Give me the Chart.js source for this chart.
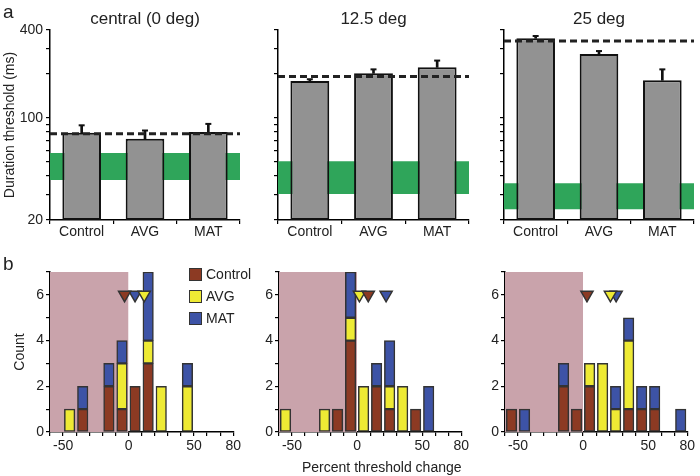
<!DOCTYPE html>
<html>
<head>
<meta charset="utf-8">
<script src="https://cdn.jsdelivr.net/npm/chart.js@4.4.1/dist/chart.umd.min.js"></script>
<style>
body { margin: 0; background: #fff; }
#fig { position: relative; width: 700px; height: 476px; overflow: hidden; font-family: "Liberation Sans", Arial, sans-serif; color: #222; }
canvas { position: absolute; }
.txt { position: absolute; white-space: nowrap; }
.key { position: absolute; width: 11px; height: 11px; border: 1.5px solid #333; }
</style>
</head>
<body>
<div id="fig">
  <canvas id="a1" width="244" height="250" style="left:2px;top:0px"></canvas>
  <canvas id="a2" width="245" height="250" style="left:230px;top:0px"></canvas>
  <canvas id="a3" width="244" height="250" style="left:456px;top:0px"></canvas>
  <canvas id="b1" width="241" height="226" style="left:2px;top:250px"></canvas>
  <canvas id="b2" width="240" height="226" style="left:231px;top:250px"></canvas>
  <canvas id="b3" width="240" height="226" style="left:457px;top:250px"></canvas>
  <div class="txt" style="left:3px;top:1px;font-size:19px">a</div>
  <div class="txt" style="left:3px;top:253px;font-size:19px">b</div>
  <div class="key" style="left:189px;top:268px;background:#8c3a23"></div>
  <div class="txt" style="left:206px;top:266px;font-size:14px">Control</div>
  <div class="key" style="left:189px;top:290px;background:#eeea34"></div>
  <div class="txt" style="left:206px;top:288px;font-size:14px">AVG</div>
  <div class="key" style="left:189px;top:312px;background:#3d53a6"></div>
  <div class="txt" style="left:206px;top:310px;font-size:14px">MAT</div>
  <div class="txt" style="left:302px;top:459px;font-size:14px">Percent threshold change</div>
</div>
<script>
// panel a: duration thresholds (ms), log axis
var groups = ["Control", "AVG", "MAT"];
var titles = ["central (0 deg)", "12.5 deg", "25 deg"];
var thr0 = [79, 72, 80], err0 = [89, 82, 91];
var thr12 = [179, 202, 222], err12 = [184, 215, 247];
var thr25 = [351, 274, 181], err25 = [364, 287, 215];
var baseline = [78, 192, 336];
var bandLow = [37.6, 30.1, 23.7];
var bandHigh = [57.5, 50.5, 35.7];
var yTicksTop = [20, 30, 40, 50, 60, 70, 80, 90, 100, 200, 300, 400];
var yLabelsTop = [20, 100, 400];

// panel b: histograms of percent threshold change
var bins = [-55, -45, -35, -25, -15, -5, 5, 15, 25, 35, 45, 55, 65, 75];
var ctrl0 = [0, 0, 1, 0, 2, 1, 2, 3, 0, 0, 0, 0, 0, 0];
var avg0  = [0, 1, 0, 0, 0, 2, 0, 1, 2, 0, 2, 0, 0, 0];
var mat0  = [0, 0, 1, 0, 1, 1, 0, 3, 0, 0, 1, 0, 0, 0];
var ctrl12 = [0, 0, 0, 0, 1, 4, 0, 2, 1, 0, 1, 0, 0, 0];
var avg12  = [1, 0, 0, 1, 0, 1, 2, 0, 1, 2, 0, 0, 0, 0];
var mat12  = [0, 0, 0, 0, 0, 2, 0, 1, 2, 0, 0, 2, 0, 0];
var ctrl25 = [1, 0, 0, 0, 2, 1, 2, 0, 0, 1, 1, 1, 0, 0];
var avg25  = [0, 0, 0, 0, 0, 0, 1, 3, 1, 3, 0, 0, 0, 0];
var mat25  = [0, 1, 0, 0, 1, 0, 0, 0, 1, 1, 1, 1, 0, 1];
var means0 = [-3, 12, 5], means12 = [8.6, 1.8, 22.3], means25 = [3, 21, 25.4];
var meanLevel = 6;
var xTicksB = [-60, -50, -40, -30, -20, -10, 0, 10, 20, 30, 40, 50, 60, 70, 80];
var xLabelsB = [-50, 0, 50, 80];
var yTicksB = [0, 1, 2, 3, 4, 5, 6, 7];

var colors = ["#8c3a23", "#eeea34", "#3d53a6"];
var tickFont = { family: "'Liberation Sans', Arial, sans-serif", size: 14 };

Chart.defaults.color = "#222";
Chart.defaults.font.family = tickFont.family;

function topChart(id, n, vals, errs, first) {
  new Chart(document.getElementById(id), {
    type: "bar",
    data: {
      labels: groups,
      datasets: [
        { type: "line", xAxisID: "x2", data: [{ x: 0, y: bandHigh[n] }, { x: 1, y: bandHigh[n] }],
          fill: { value: bandLow[n] }, backgroundColor: "#2fa55a", borderWidth: 0, pointRadius: 0, order: 5 },
        { data: vals, backgroundColor: "#929292", borderColor: "#111", borderWidth: 2, borderSkipped: false,
          barPercentage: 0.61, categoryPercentage: 1, grouped: false, order: 3 },
        { data: vals.map(function (v, i) { return [v, errs[i]]; }), backgroundColor: "#111",
          barThickness: 2, grouped: false, order: 2 },
        { type: "line", data: errs, showLine: false, pointStyle: "line", pointRadius: 3,
          pointBorderWidth: 2, pointBorderColor: "#111", order: 1 },
        { type: "line", xAxisID: "x2", data: [{ x: 0, y: baseline[n] }, { x: 1, y: baseline[n] }],
          borderColor: "#222", borderWidth: 3, borderDash: [7, 4], pointRadius: 0, order: 0 }
      ]
    },
    options: {
      responsive: false, animation: false, events: [],
      layout: { padding: { right: 5 } },
      plugins: {
        legend: { display: false }, tooltip: { enabled: false },
        title: { display: true, text: titles[n], fullSize: false, color: "#222",
          font: { size: 17, weight: "normal" }, padding: { top: 9, bottom: 0.6 } }
      },
      scales: {
        x: {
          grid: { drawOnChartArea: false, tickLength: 4, color: "#000", lineWidth: 1.2 },
          border: { color: "#000", width: 1.5 },
          ticks: { font: tickFont, color: "#222", padding: 0 },
          afterFit: function (s) { s.height = 30; }
        },
        x2: { type: "linear", display: false, min: 0, max: 1, offset: false },
        y: {
          type: "logarithmic", min: 20, max: 400,
          afterBuildTicks: function (s) { s.ticks = yTicksTop.map(function (v) { return { value: v }; }); },
          grid: { drawOnChartArea: false, tickLength: 4, color: "#000", lineWidth: 1.2 },
          border: { color: "#000", width: 1.5 },
          ticks: { font: tickFont, color: "#222", padding: 3, autoSkip: false,
            callback: function (v) { return first && yLabelsTop.indexOf(v) >= 0 ? String(v) : ""; } },
          title: { display: first, text: "Duration threshold (ms)", font: tickFont, color: "#222", padding: 0 },
          afterFit: function (s) { s.width = 48; }
        }
      }
    }
  });
}

function histChart(id, ctrl, avg, mat, means, first) {
  var counts = [ctrl, avg, mat];
  var ds = [
    { type: "line", yAxisID: "y2", data: [{ x: -60, y: 7 }, { x: 0, y: 7 }], fill: "origin",
      backgroundColor: "#c9a3ab", borderWidth: 0, pointRadius: 0, order: 10 }
  ];
  counts.forEach(function (arr, g) {
    ds.push({
      label: groups[g],
      data: bins.map(function (b, i) { return { x: b, y: arr[i] ? arr[i] : null }; }),
      backgroundColor: colors[g], borderColor: "#333", borderWidth: 1.5, borderSkipped: false,
      barThickness: 10.5, order: 3
    });
  });
  means.forEach(function (m, g) {
    ds.push({
      type: "line", yAxisID: "y2", data: [{ x: m, y: meanLevel }], showLine: false,
      pointStyle: "triangle", rotation: 180, pointRadius: 7,
      pointBackgroundColor: colors[g], pointBorderColor: "#333", pointBorderWidth: 1.5, order: 1
    });
  });
  new Chart(document.getElementById(id), {
    type: "bar",
    data: { datasets: ds },
    options: {
      responsive: false, animation: false, events: [],
      layout: { padding: { top: 22, right: 5 } },
      plugins: { legend: { display: false }, tooltip: { enabled: false } },
      scales: {
        x: {
          type: "linear", min: -60, max: 80, offset: false, stacked: true,
          afterBuildTicks: function (s) { s.ticks = xTicksB.map(function (v) { return { value: v }; }); },
          grid: { offset: false, drawOnChartArea: false, tickLength: 4, color: "#000", lineWidth: 1.2 },
          border: { color: "#000", width: 1.5 },
          ticks: { font: tickFont, color: "#222", padding: 2, autoSkip: false, maxRotation: 0,
            callback: function (v) { return xLabelsB.indexOf(v) >= 0 ? String(v) : ""; } },
          afterFit: function (s) { s.height = 44; }
        },
        y: {
          type: "linear", min: 0, max: 7, stacked: true,
          afterBuildTicks: function (s) { s.ticks = yTicksB.map(function (v) { return { value: v }; }); },
          grid: { drawOnChartArea: false, tickLength: 4, color: "#000", lineWidth: 1.2 },
          border: { color: "#000", width: 1.5 },
          ticks: { font: tickFont, color: "#222", padding: 2, autoSkip: false,
            callback: function (v) { return v % 2 === 0 ? String(v) : ""; } },
          title: { display: first, text: "Count", font: tickFont, color: "#222", padding: { top: 9.6, bottom: 0 } },
          afterFit: function (s) { s.width = 48; }
        },
        y2: { type: "linear", min: 0, max: 7, display: false }
      }
    }
  });
}

topChart("a1", 0, thr0, err0, true);
topChart("a2", 1, thr12, err12, false);
topChart("a3", 2, thr25, err25, false);
histChart("b1", ctrl0, avg0, mat0, means0, true);
histChart("b2", ctrl12, avg12, mat12, means12, false);
histChart("b3", ctrl25, avg25, mat25, means25, false);
</script>
</body>
</html>
